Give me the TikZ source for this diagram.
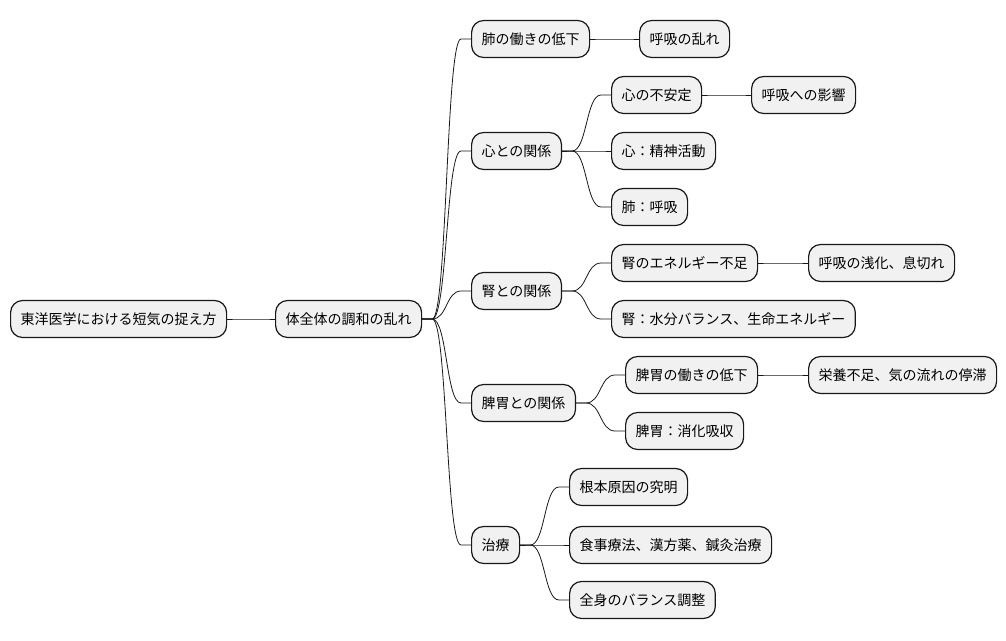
\documentclass[tikz,border=0pt]{standalone}
\usepackage{fontspec}
\setmainfont{Noto Sans CJK JP}
\usepackage{tikz}
\usetikzlibrary{positioning}
\usepackage{xcolor}
\definecolor{MapFill}{HTML}{F1F1F1}
\definecolor{MapLine}{HTML}{181818}

\begin{document}
\begin{tikzpicture}[
    x=1pt,y=-1pt,
    box/.style={draw=MapLine,line width=1.2pt,rounded corners=12pt,fill=MapFill,
      anchor=west,minimum height=37pt,inner xsep=10pt,inner ysep=0pt,
      font=\fontsize{14}{16}\selectfont},
    link/.style={draw=MapLine,line width=0.8pt,
      to path={-- ++(10pt,0) .. controls +(15pt,0) and +(-15pt,0) ..
        ([xshift=-10pt]\tikztotarget) -- (\tikztotarget)}}
  ]
    \useasboundingbox (0,0) rectangle (1006,640);
    % root and centre
    \node[box] (root) at (10,319) {東洋医学における短気の捉え方};
    \node[box] (whole) at (275,319) {体全体の調和の乱れ};
    % lung
    \node[box] (lung) at (471,39) {肺の働きの低下};
    \node[box] (breath) at (639,39) {呼吸の乱れ};
    % heart
    \node[box] (heart) at (471,151) {心との関係};
    \node[box] (hunst) at (611,95) {心の不安定};
    \node[box] (heffect) at (751,95) {呼吸への影響};
    \node[box] (hmind) at (611,151) {心：精神活動};
    \node[box] (hlung) at (611,207) {肺：呼吸};
    % kidney
    \node[box] (kidney) at (471,291) {腎との関係};
    \node[box] (klack) at (611,263) {腎のエネルギー不足};
    \node[box] (kshort) at (808,263) {呼吸の浅化、息切れ};
    \node[box] (kwater) at (611,319) {腎：水分バランス、生命エネルギー};
    % spleen and stomach
    \node[box] (spleen) at (471,403) {脾胃との関係};
    \node[box] (sweak) at (625,375) {脾胃の働きの低下};
    \node[box] (sstag) at (808,375) {栄養不足、気の流れの停滞};
    \node[box] (sdigest) at (625,431) {脾胃：消化吸収};
    % treatment
    \node[box] (treat) at (471,545) {治療};
    \node[box] (tcause) at (569,487) {根本原因の究明};
    \node[box] (tmeth) at (569,545) {食事療法、漢方薬、鍼灸治療};
    \node[box] (tbal) at (569,600) {全身のバランス調整};

    \draw[link] (root.east) to (whole.west);
    \foreach \kid in {lung,heart,kidney,spleen,treat}
      \draw[link] (whole.east) to (\kid.west);
    \draw[link] (lung.east) to (breath.west);
    \foreach \kid in {hunst,hmind,hlung}
      \draw[link] (heart.east) to (\kid.west);
    \draw[link] (hunst.east) to (heffect.west);
    \foreach \kid in {klack,kwater}
      \draw[link] (kidney.east) to (\kid.west);
    \draw[link] (klack.east) to (kshort.west);
    \foreach \kid in {sweak,sdigest}
      \draw[link] (spleen.east) to (\kid.west);
    \draw[link] (sweak.east) to (sstag.west);
    \foreach \kid in {tcause,tmeth,tbal}
      \draw[link] (treat.east) to (\kid.west);
  \end{tikzpicture}
\end{document}
